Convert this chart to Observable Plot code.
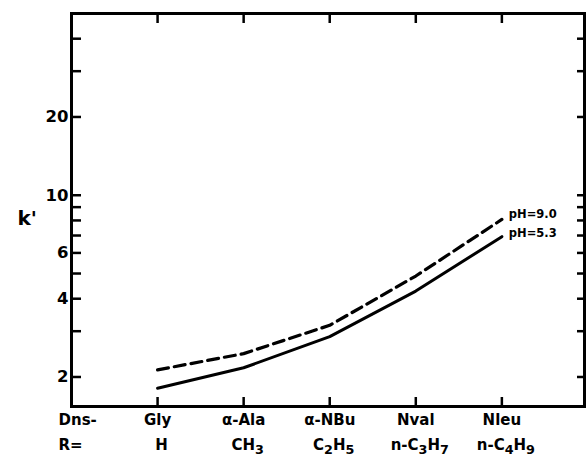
<!DOCTYPE html>
<html><head><meta charset="utf-8">
<script src="https://cdn.jsdelivr.net/npm/d3@7"></script>
<script src="https://cdn.jsdelivr.net/npm/@observablehq/plot@0.6"></script>
<style>body{margin:0;background:#fff}</style>
</head><body><div id="chart"></div>
<script>
const categories = ["Gly", "α-Ala", "α-NBu", "Nval", "Nleu"];
const groups = ["H", "CH_3", "C_2H_5", "n-C_3H_7", "n-C_4H_9"];
const rowLabels = ["Dns-", "R="];
const pH90 = [2.13, 2.46, 3.16, 4.89, 8.07];
const pH53 = [1.81, 2.17, 2.86, 4.28, 6.93];
const seriesLabels = ["pH=9.0", "pH=5.3"];
const yTicks = [2, 3, 4, 5, 6, 7, 8, 9, 10, 20, 30, 40];
const yTickLabels = [2, 4, 6, 10, 20];
const yTitle = "k'";

const W = 587, H = 458, mL = 71, mR = 3, mT = 13, mB = 52;
const fw = W - mL - mR, fh = H - mT - mB;
const xi = (d, i) => i + 1;

const plot = Plot.plot({
  width: W, height: H,
  marginLeft: mL, marginRight: mR, marginTop: mT, marginBottom: mB,
  style: {fontFamily: "'DejaVu Sans', sans-serif", fontWeight: "bold", fontSize: "15px", background: "#fff", color: "#000"},
  x: {domain: [0, 5.96], axis: null},
  y: {type: "log", domain: [1.54, 50], axis: null},
  marks: [
    // inward ticks
    Plot.tickY(yTicks, {y: d => d, insetRight: fw - 10, strokeWidth: 2.5, stroke: "#000"}),
    Plot.tickY(yTicks, {y: d => d, insetLeft: fw - 7, strokeWidth: 2.5, stroke: "#000"}),
    Plot.tickX(categories, {x: xi, insetTop: fh - 9, strokeWidth: 2.5, stroke: "#000"}),
    Plot.tickX(categories, {x: xi, insetBottom: fh - 10, strokeWidth: 2.5, stroke: "#000"}),
    Plot.frame({strokeWidth: 3, stroke: "#000"}),
    // y tick labels
    Plot.text(yTickLabels, {y: d => d, text: d => String(d), frameAnchor: "left", textAnchor: "end", dx: -3, fontSize: 16.5}),
    Plot.text([yTitle], {text: d => d, frameAnchor: "left", dx: -54, dy: 9, fontSize: 20}),
    // series
    Plot.line(pH90, {x: xi, y: d => d, stroke: "#000", strokeWidth: 3.2, strokeDasharray: "11,6"}),
    Plot.line(pH53, {x: xi, y: d => d, stroke: "#000", strokeWidth: 3}),
    Plot.text([seriesLabels[0]], {x: () => categories.length, y: () => pH90[pH90.length - 1], text: d => d, textAnchor: "start", dx: 7, dy: -5, fontSize: 11.5}),
    Plot.text([seriesLabels[1]], {x: () => categories.length, y: () => pH53[pH53.length - 1], text: d => d, textAnchor: "start", dx: 7, dy: -3, fontSize: 11.5}),
    // category labels
    Plot.text(categories, {x: xi, text: d => d, frameAnchor: "bottom", dy: 18, letterSpacing: "0.6px"}),
    Plot.text(groups, {x: xi, text: d => d, frameAnchor: "bottom", dy: 43, dx: 4, letterSpacing: "1.4px"}),
    Plot.text([rowLabels[0]], {x: () => 0, text: d => d, frameAnchor: "bottom", textAnchor: "start", dx: -13, dy: 18, letterSpacing: "0.6px"}),
    Plot.text([rowLabels[1]], {x: () => 0, text: d => d, frameAnchor: "bottom", textAnchor: "start", dx: -13, dy: 43, letterSpacing: "0.6px"})
  ]
});

// render subscripts
d3.select(plot).selectAll("text").each(function() {
  const t = this.textContent;
  if (!t.includes("_")) return;
  const el = d3.select(this);
  el.text(null);
  const parts = t.split(/(_\d)/).filter(s => s.length);
  let shifted = false;
  for (const p of parts) {
    if (p.startsWith("_")) {
      el.append("tspan").attr("dy", shifted ? 0 : 4).attr("font-size", "85%").text(p.slice(1));
      shifted = true;
    } else {
      el.append("tspan").attr("dy", shifted ? -4 : 0).text(p);
      shifted = false;
    }
  }
});

document.getElementById("chart").append(plot);
</script></body></html>
